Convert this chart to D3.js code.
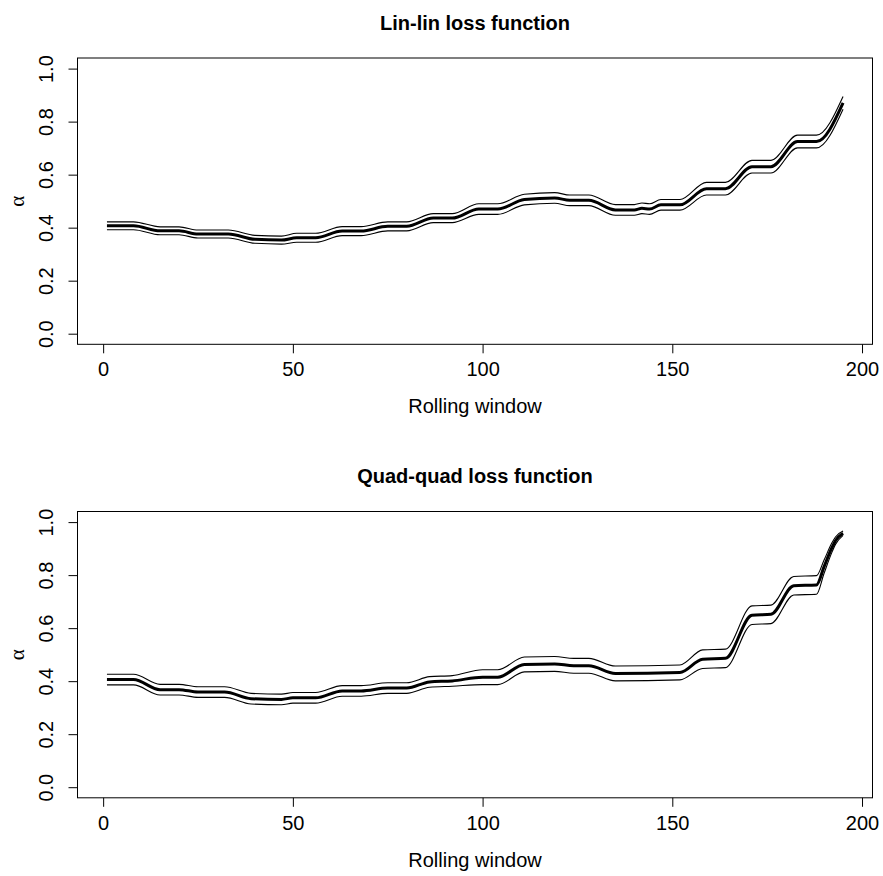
<!DOCTYPE html>
<html><head><meta charset="utf-8">
<script src="https://cdn.jsdelivr.net/npm/d3@7"></script>
<style>body{margin:0;background:#fff}svg{display:block}text{font-family:"Liberation Sans",Arial,sans-serif}</style>
</head><body>
<script>
// ---- data ----
const titles = ["Lin-lin loss function", "Quad-quad loss function"];
const xTicks = [0, 50, 100, 150, 200];
const yTicks = [0, 0.2, 0.4, 0.6, 0.8, 1.0];

const linX = [1,8,15,20,25,33,40,47,51,56,63,68,75,80,87,92,99,104,111,119,123,128,135,140,142,144,147,152,159,164,171,176,183,188,195];
const linEst = [0.407,0.407,0.388,0.388,0.376,0.376,0.356,0.353,0.362,0.362,0.387,0.387,0.405,0.405,0.436,0.436,0.470,0.470,0.506,0.512,0.503,0.503,0.467,0.467,0.473,0.470,0.486,0.486,0.547,0.547,0.630,0.630,0.725,0.725,0.871];
const linUp  = [0.422,0.422,0.403,0.403,0.391,0.391,0.371,0.368,0.379,0.379,0.404,0.404,0.422,0.422,0.453,0.453,0.490,0.490,0.526,0.532,0.523,0.523,0.487,0.487,0.493,0.490,0.506,0.506,0.571,0.571,0.654,0.654,0.749,0.749,0.895];
const linLo  = [0.392,0.392,0.373,0.373,0.361,0.361,0.341,0.338,0.345,0.345,0.370,0.370,0.388,0.388,0.419,0.419,0.450,0.450,0.486,0.492,0.483,0.483,0.447,0.447,0.453,0.450,0.466,0.466,0.523,0.523,0.606,0.606,0.701,0.701,0.847];

const quadX = [1,8,15,20,25,32,39,47,50,56,63,68,75,80,86,92,100,104,111,119,124,128,135,152,158,164,171,176,182,188,190,192,193,195];
const quadEst = [0.406,0.406,0.368,0.368,0.359,0.359,0.334,0.331,0.337,0.337,0.363,0.363,0.374,0.374,0.397,0.401,0.415,0.415,0.463,0.465,0.458,0.458,0.429,0.433,0.483,0.486,0.649,0.652,0.760,0.763,0.832,0.902,0.930,0.958];
const quadUp  = [0.426,0.426,0.388,0.388,0.379,0.379,0.354,0.351,0.357,0.357,0.383,0.383,0.394,0.394,0.417,0.421,0.443,0.443,0.491,0.493,0.486,0.486,0.457,0.461,0.518,0.521,0.684,0.687,0.795,0.798,0.857,0.920,0.944,0.966];
const quadLo  = [0.386,0.386,0.348,0.348,0.339,0.339,0.314,0.311,0.317,0.317,0.343,0.343,0.354,0.354,0.377,0.381,0.387,0.387,0.435,0.437,0.430,0.430,0.401,0.405,0.448,0.451,0.614,0.617,0.725,0.728,0.807,0.884,0.916,0.950];

const panels = [
  {title: titles[0], x: linX, est: linEst, up: linUp, lo: linLo},
  {title: titles[1], x: quadX, est: quadEst, up: quadUp, lo: quadLo}
];

// ---- layout ----
const W = 883, H = 876;
const svg = d3.select("body").append("svg").attr("width", W).attr("height", H);
const box = {left: 77.5, right: 872.5, top: 58, height: 286.3};
const panelOffset = 453.5;

const x = d3.scaleLinear().domain([-6.76, 202.76]).range([box.left, box.right]);

panels.forEach((p, i) => {
  const top = box.top + i * panelOffset;
  const bottom = top + box.height;
  const y = d3.scaleLinear().domain([-0.04, 1.04]).range([bottom, top]);
  const g = svg.append("g");

  // title
  g.append("text").attr("x", (box.left + box.right) / 2).attr("y", 29.5 + i * panelOffset)
    .attr("text-anchor", "middle").attr("font-weight", "bold").attr("font-size", 20)
    .text(p.title);

  // lines
  const pts = (arr) => p.x.map((v, k) => [v, arr[k]]);
  const line = d3.line().x(d => x(d[0])).y(d => y(d[1])).curve(d3.curveMonotoneX);
  [p.up, p.lo].forEach(arr => {
    g.append("path").datum(pts(arr)).attr("d", line)
      .attr("fill", "none").attr("stroke", "#000").attr("stroke-width", 1.1);
  });
  g.append("path").datum(pts(p.est)).attr("d", line)
    .attr("fill", "none").attr("stroke", "#000").attr("stroke-width", 3);

  // x axis
  const xa = g.append("g").attr("transform", `translate(0,${bottom})`)
    .call(d3.axisBottom(x).tickValues(xTicks).tickSize(9).tickPadding(9).tickFormat(d3.format("d")));
  xa.select(".domain").remove();
  xa.selectAll("text").attr("font-size", 20).attr("font-family", "Liberation Sans, Arial, sans-serif").attr("fill", "#000");
  xa.selectAll("line").attr("stroke", "#000");

  // y axis
  const ya = g.append("g").attr("transform", `translate(${box.left},0)`)
    .call(d3.axisLeft(y).tickValues(yTicks).tickSize(9).tickFormat(d3.format(".1f")));
  ya.select(".domain").remove();
  ya.selectAll("line").attr("stroke", "#000");
  ya.selectAll("text")
    .attr("font-size", 20).attr("font-family", "Liberation Sans, Arial, sans-serif").attr("fill", "#000")
    .attr("text-anchor", "middle").attr("dy", null).attr("x", null)
    .attr("transform", "translate(-25,0) rotate(-90)");

  // box
  g.append("rect").attr("x", box.left).attr("y", top)
    .attr("width", box.right - box.left).attr("height", box.height)
    .attr("fill", "none").attr("stroke", "#000").attr("stroke-width", 1);

  // axis labels
  g.append("text").attr("x", (box.left + box.right) / 2).attr("y", bottom + 69)
    .attr("text-anchor", "middle").attr("font-size", 20).text("Rolling window");
  g.append("text").attr("transform", `translate(24,${(top + bottom) / 2}) rotate(-90)`)
    .attr("text-anchor", "middle").attr("font-size", 21)
    .style("font-family", "'Liberation Serif', 'DejaVu Serif', serif").text("α");
});
</script>
</body></html>
